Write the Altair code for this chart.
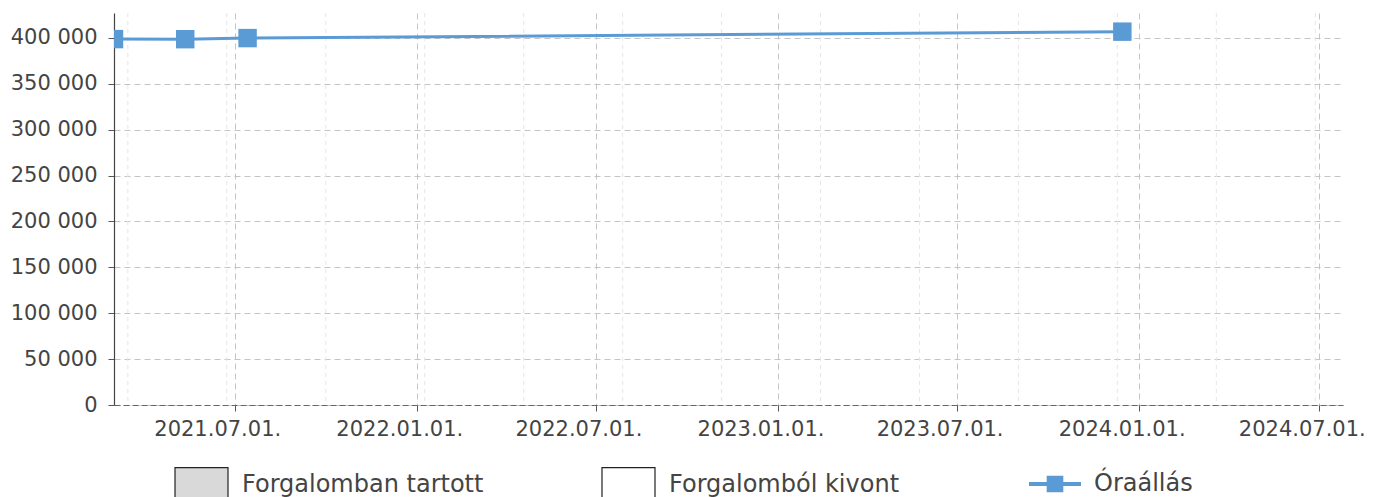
import altair as alt
import pandas as pd

# ---- data ----
dates = ["2021-03-01", "2021-05-12", "2021-07-14", "2023-12-15"]
readings = [398700, 398600, 399800, 406800]
series_name = ["Óraállás"]
status_names = ["Forgalomban tartott", "Forgalomból kivont"]
status_colors = ["#d9d9d9", "#ffffff"]
x_tick_dates = ["2021-07-01", "2022-01-01", "2022-07-01", "2023-01-01",
                "2023-07-01", "2024-01-01", "2024-07-01"]
x_tick_labels = ["2021.07.01.", "2022.01.01.", "2022.07.01.", "2023.01.01.",
                 "2023.07.01.", "2024.01.01.", "2024.07.01."]
y_ticks = [0, 50000, 100000, 150000, 200000, 250000, 300000, 350000, 400000]
x_domain = ["2021-03-01", "2024-07-25"]
y_domain = [0, 427140]
minor_grid_start = "2021-03-15"

BLUE = "#5b9bd5"
FONT = "DejaVu Sans"
W, H = 1229, 392


def dt(s):
    y, m, d = (int(v) for v in s.split("-"))
    return alt.DateTime(year=y, month=m, date=d, utc=True)


line_df = pd.DataFrame({"date": dates, "value": readings,
                        "series": series_name * len(dates)})
minor_df = pd.DataFrame({"date": pd.date_range(minor_grid_start, periods=13,
                                               freq="100D").strftime("%Y-%m-%d")})
status_df = pd.DataFrame({"status": status_names})
tick_df = pd.DataFrame({"date": x_tick_dates, "label": x_tick_labels})

x_enc = alt.X(
    "date:T",
    scale=alt.Scale(type="utc", domain=[dt(x_domain[0]), dt(x_domain[1])]),
    axis=alt.Axis(
        values=[dt(s) for s in x_tick_dates],
        labels=False,
        title=None,
        tickSize=6, tickColor="#555",
        grid=True, gridColor="#c4c4c4", gridDash=[6, 4], gridWidth=1,
        domainColor="#666", domainDash=[6, 3], domainWidth=1,
    ),
)

y_enc = alt.Y(
    "value:Q",
    scale=alt.Scale(domain=y_domain, nice=False, zero=True),
    axis=alt.Axis(
        values=y_ticks,
        labelExpr="replace(format(datum.value, ','), ',', ' ')",
        title=None,
        labelFontSize=21, labelColor="#444", labelFont=FONT,
        labelPadding=11,
        tickSize=6, tickColor="#555",
        grid=True, gridColor="#c4c4c4", gridDash=[6, 4], gridWidth=1,
        domainColor="#444", domainWidth=1.2,
    ),
)

minor = alt.Chart(minor_df).mark_rule(
    color="#e6e6e6", strokeDash=[4, 4], strokeWidth=1
).encode(x=x_enc)

xlabels = alt.Chart(tick_df).mark_text(
    font=FONT, fontSize=21, color="#444", align="center",
    baseline="alphabetic", dx=-17
).encode(x=x_enc, y=alt.value(H + 31), text="label:N")

line = alt.Chart(line_df).mark_line(color=BLUE, strokeWidth=3, clip=True).encode(
    x=x_enc, y=y_enc
)

LINE_SYMBOL = ("M-1,-0.08L1,-0.08L1,0.08L-1,0.08Z "
               "M-0.32,-0.32L0.32,-0.32L0.32,0.32L-0.32,0.32Z")
BOX_SYMBOL = "M-1,-0.64L1,-0.64L1,0.64L-1,0.64Z"

points = alt.Chart(line_df).mark_point(
    filled=True, shape="square", size=340, opacity=1, clip=True
).encode(
    x=x_enc, y=y_enc,
    color=alt.Color(
        "series:N",
        scale=alt.Scale(domain=series_name, range=[BLUE]),
        legend=alt.Legend(
            orient="none", legendX=914, legendY=444, direction="horizontal",
            title=None, padding=0,
            symbolType=LINE_SYMBOL, symbolSize=2704, symbolOpacity=1,
            labelFontSize=24, labelColor="#444", labelFont=FONT, labelOffset=12,
            labelLimit=400,
        ),
    ),
)

status = alt.Chart(status_df).mark_point(
    filled=True, shape="square", opacity=0
).encode(
    fill=alt.Fill(
        "status:N",
        scale=alt.Scale(domain=status_names, range=status_colors),
        legend=alt.Legend(
            orient="none", legendX=60, legendY=444, direction="horizontal",
            title=None, padding=0, columnPadding=115,
            symbolType=BOX_SYMBOL, symbolSize=2809, symbolOpacity=1,
            symbolStrokeColor="#222", symbolStrokeWidth=1.2,
            labelFontSize=24, labelColor="#444", labelFont=FONT, labelOffset=13,
            labelLimit=400,
        ),
    ),
)

chart = alt.layer(minor, line, points, xlabels, status).resolve_legend(
    color="independent", fill="independent"
).properties(
    width=W, height=H,
    autosize=alt.AutoSizeParams(type="none"),
    padding={"left": 106, "top": 5, "right": 29, "bottom": 92},
).configure(font=FONT).configure_view(stroke=None)

chart.save("out.html", embed_options={"renderer": "svg", "actions": False})
